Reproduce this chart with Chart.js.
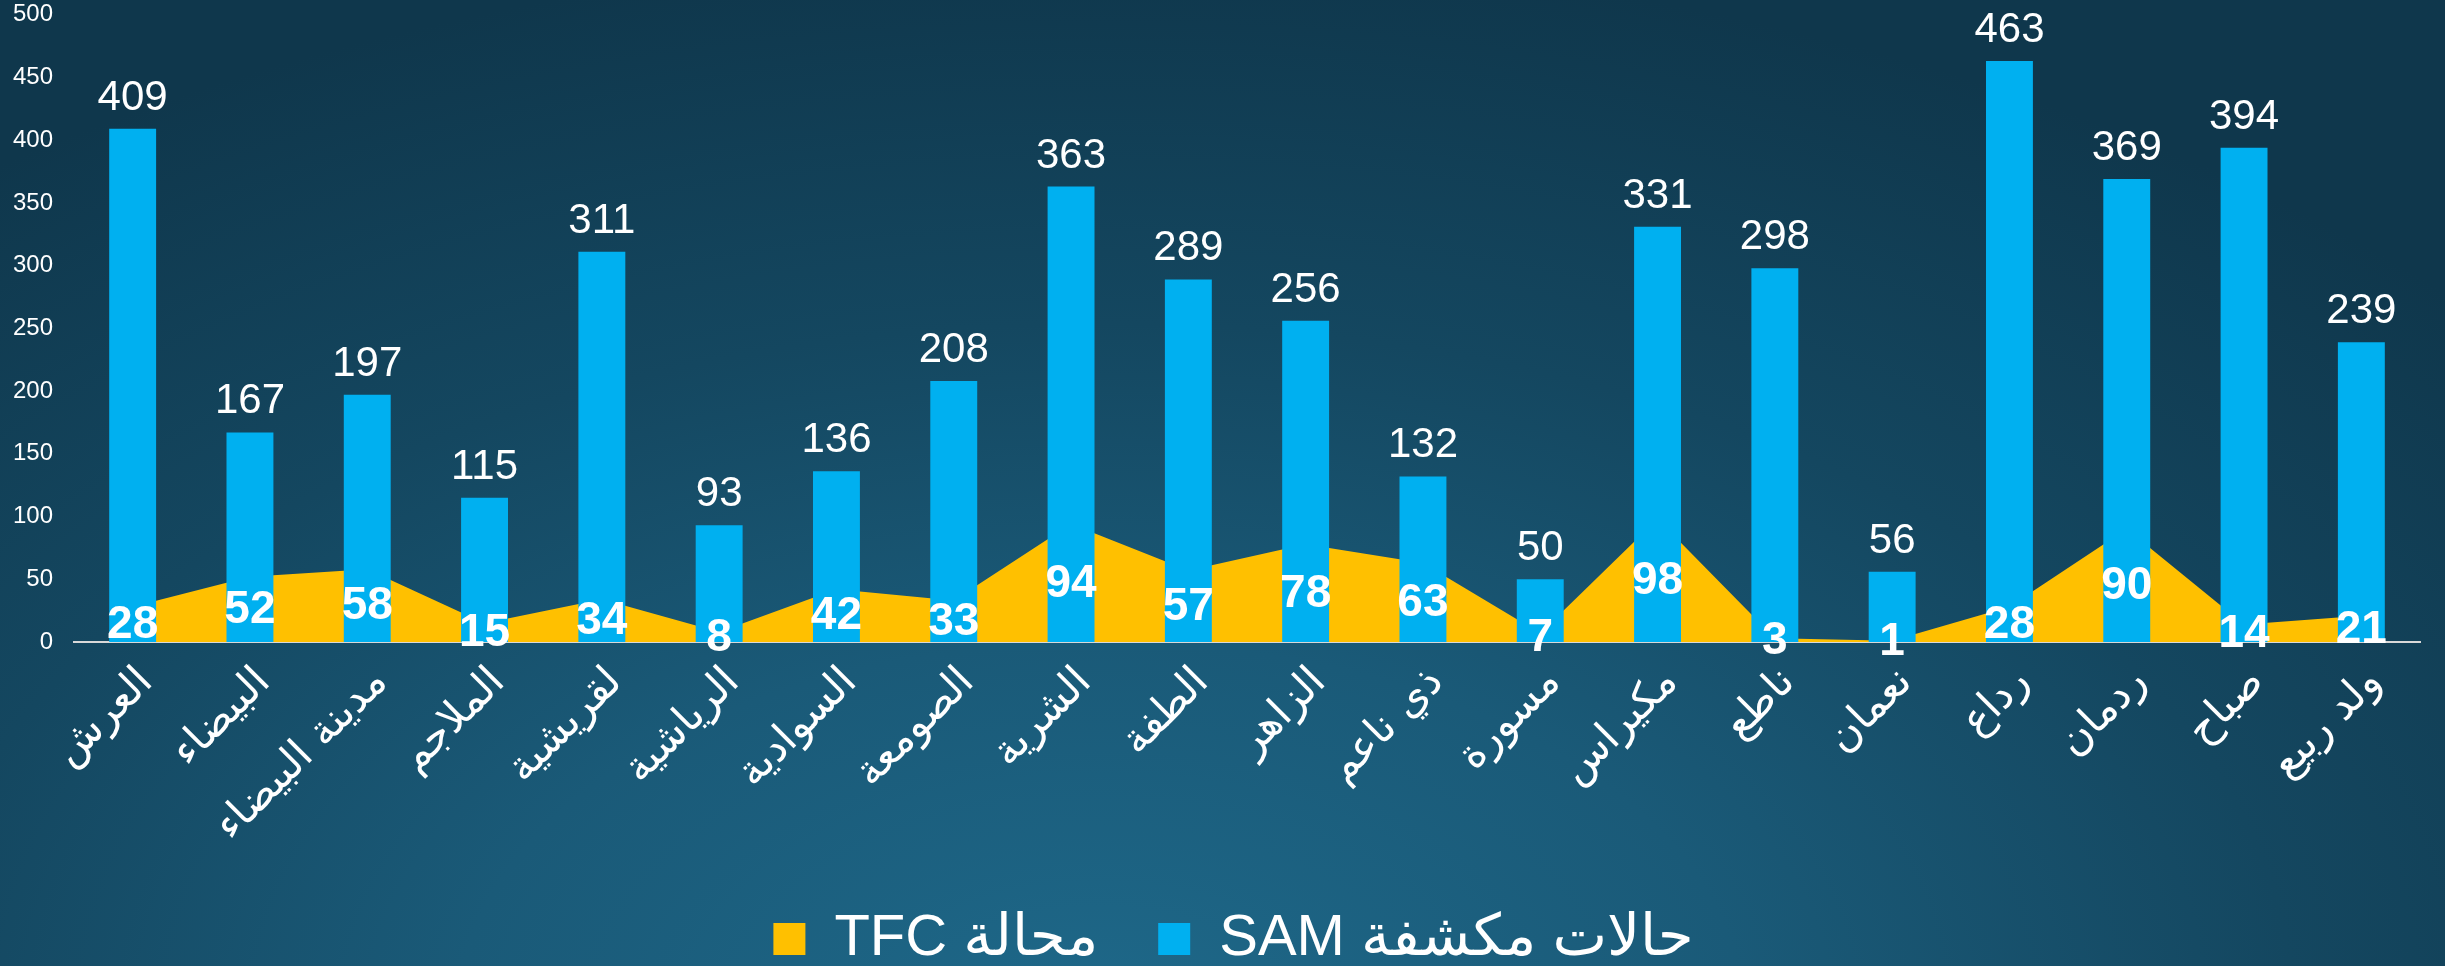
<!DOCTYPE html>
<html>
<head>
<meta charset="utf-8">
<script src="https://cdn.jsdelivr.net/npm/chart.js@4.4.1/dist/chart.umd.min.js"></script>
<style>
  html, body { margin: 0; padding: 0; width: 2445px; height: 966px; overflow: hidden; }
  body {
    background: radial-gradient(ellipse 75% 110% at 45% 105%, #1e6889 0%, #1a5a78 35%, #144760 65%, #0f374c 100%);
  }
  #wrap { position: absolute; left: 0; top: 0; width: 2445px; height: 978px; }
</style>
</head>
<body>
<div id="wrap"><canvas id="c"></canvas></div>
<script>
const categories = ["العرش", "البيضاء", "مدينة البيضاء", "الملاجم", "لقريشية", "الرياشية", "السوادية", "الصومعة", "الشرية", "الطفة", "الزاهر", "ذي ناعم", "مسورة", "مكيراس", "ناطع", "نعمان", "رداع", "ردمان", "صباح", "ولد ربيع"];
const samValues = [409, 167, 197, 115, 311, 93, 136, 208, 363, 289, 256, 132, 50, 331, 298, 56, 463, 369, 394, 239];
const tfcValues = [28, 52, 58, 15, 34, 8, 42, 33, 94, 57, 78, 63, 7, 98, 3, 1, 28, 90, 14, 21];
const seriesNames = ["TFC محالة", "SAM حالات مكشفة"];
const yTicks = { min: 0, max: 500, step: 50 };

const LATIN = '"Liberation Sans", Arial, "DejaVu Sans", sans-serif';

const labelPlugin = {
  id: 'valueLabels',
  beforeDraw(chart) {
    const lg = chart.legend;
    if (lg && !lg._shifted) { lg.left += 17; lg.right += 17; lg._shifted = true; }
  },
  afterDatasetsDraw(chart) {
    const ctx = chart.ctx;
    const yScale = chart.scales.y;
    ctx.save();
    ctx.fillStyle = '#ffffff';
    ctx.textAlign = 'center';
    const barMeta = chart.getDatasetMeta(1);
    ctx.font = '42px ' + LATIN;
    ctx.textBaseline = 'alphabetic';
    barMeta.data.forEach((bar, i) => {
      ctx.fillText(String(samValues[i]), bar.x, bar.y - 19);
    });
    const lineMeta = chart.getDatasetMeta(0);
    ctx.font = 'bold 46px ' + LATIN;
    ctx.textBaseline = 'middle';
    lineMeta.data.forEach((pt, i) => {
      const y = yScale.getPixelForValue(tfcValues[i] / 2) + 1;
      ctx.fillText(String(tfcValues[i]), pt.x, y);
    });
    ctx.restore();
  }
};

new Chart(document.getElementById('c'), {
  type: 'bar',
  data: {
    labels: categories,
    datasets: [
      {
        type: 'line',
        label: seriesNames[0],
        data: tfcValues,
        fill: 'origin',
        backgroundColor: '#FFC000',
        borderColor: '#FFC000',
        borderWidth: 0,
        pointRadius: 0,
        tension: 0,
        order: 2
      },
      {
        type: 'bar',
        label: seriesNames[1],
        data: samValues,
        backgroundColor: '#00B0F0',
        borderWidth: 0,
        barPercentage: 0.4,
        categoryPercentage: 1,
        order: 1
      }
    ]
  },
  options: {
    responsive: true,
    maintainAspectRatio: false,
    animation: false,
    layout: { padding: { left: 13, right: 25, top: 2, bottom: 0 } },
    plugins: {
      tooltip: { enabled: false },
      legend: {
        position: 'bottom',
        labels: {
          color: '#ffffff',
          font: { size: 58, family: LATIN },
          boxWidth: 32,
          boxHeight: 32,
          padding: 60,
          sort: (a, b) => a.datasetIndex - b.datasetIndex
        }
      }
    },
    scales: {
      x: {
        grid: { display: false, drawTicks: false },
        border: { display: true, color: '#d9d9d9', width: 2 },
        ticks: {
          color: '#ffffff',
          font: { size: 42, family: '"DejaVu Sans", sans-serif' },
          minRotation: 45,
          maxRotation: 45,
          autoSkip: false,
          padding: 16,
          labelOffset: 14
        },
        afterFit(scale) {
          scale.height = 208;
          scale.paddingLeft = 0;
          scale.paddingRight = 0;
        }
      },
      y: {
        min: yTicks.min,
        max: yTicks.max,
        grid: { display: false, drawTicks: false },
        border: { display: false },
        ticks: {
          stepSize: yTicks.step,
          color: '#ffffff',
          font: { size: 24, family: LATIN },
          padding: 21
        },
        afterFit(scale) {
          scale.width = 61;
          scale.paddingTop = 14.7;
          scale.paddingBottom = 0;
        }
      }
    }
  },
  plugins: [labelPlugin]
});
</script>
</body>
</html>
